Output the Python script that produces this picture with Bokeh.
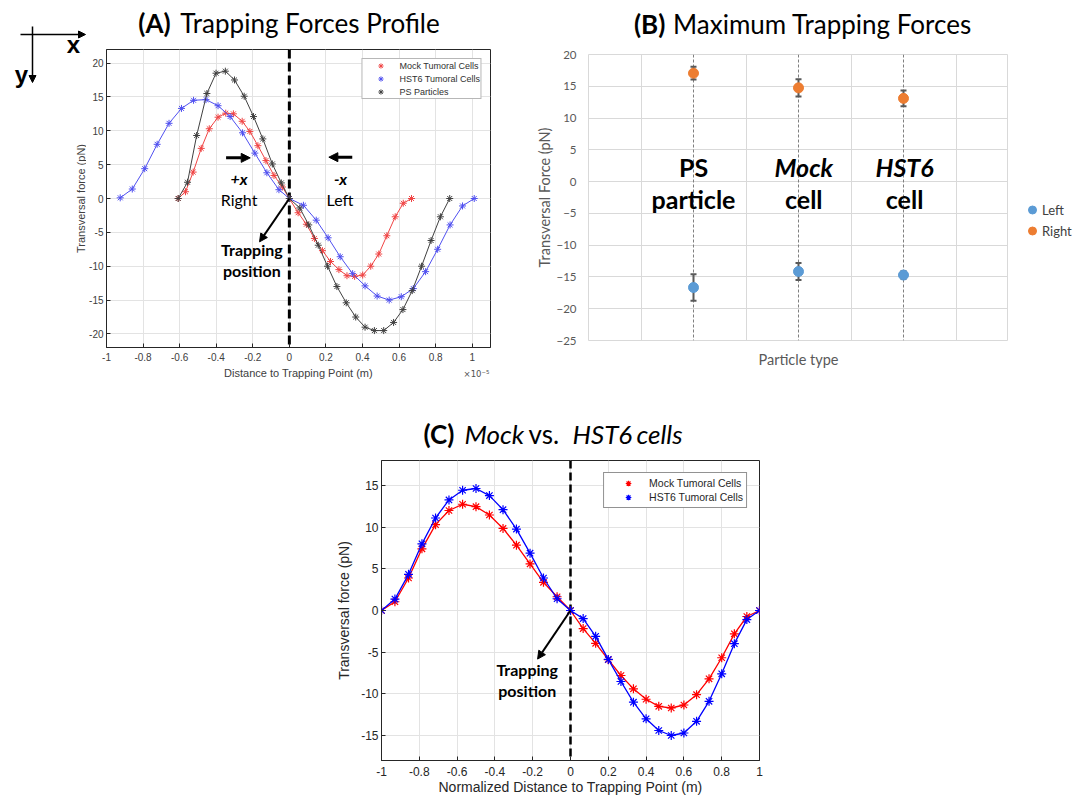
import math
from bokeh.plotting import figure
from bokeh.models import (Label, Arrow, NormalHead, Span, Legend, LegendItem, FixedTicker,
                          CustomJSTickFormatter, Whisker, TeeHead, ColumnDataSource,
                          SingleIntervalTicker, Range1d)
from bokeh.layouts import column, row, Spacer
from bokeh.embed import file_html
from bokeh.resources import INLINE

# ---------------- Panel A data (distance in units of 1e-5 m, force in pN) ----------------
mock_a_x = [-0.608, -0.568, -0.526, -0.482, -0.438, -0.390, -0.348, -0.306, -0.258, -0.216,
            -0.172, -0.128, -0.084, -0.038, 0.0, 0.048, 0.093, 0.137, 0.181, 0.225,
            0.271, 0.315, 0.357, 0.401, 0.445, 0.489, 0.533, 0.579, 0.623, 0.668]
mock_a_y = [0.0, 1.0, 3.9, 7.4, 10.3, 12.0, 12.6, 12.5, 11.4, 9.9,
            7.8, 5.6, 3.4, 1.7, 0.0, -2.1, -3.8, -5.9, -7.7, -9.3,
            -10.5, -11.4, -11.5, -11.3, -10.0, -8.2, -5.5, -2.7, -0.7, 0.0]
hst6_a_x = [-0.925, -0.859, -0.791, -0.723, -0.658, -0.590, -0.524, -0.456, -0.390, -0.324,
            -0.256, -0.189, -0.123, -0.057, 0.0, 0.077, 0.147, 0.212, 0.278, 0.346,
            0.414, 0.480, 0.546, 0.612, 0.678, 0.745, 0.811, 0.879, 0.947, 1.011]
hst6_a_y = [0.1, 1.4, 4.4, 8.0, 11.1, 13.3, 14.5, 14.6, 13.7, 12.1,
            9.7, 6.7, 3.8, 1.3, 0.0, -1.0, -3.2, -5.8, -8.6, -11.1,
            -12.9, -14.4, -15.0, -14.5, -13.3, -10.8, -7.5, -3.9, -1.1, 0.0]
ps_a_x = [-0.608, -0.557, -0.507, -0.451, -0.401, -0.350, -0.300, -0.247, -0.196, -0.145,
          -0.093, -0.044, 0.0, 0.057, 0.106, 0.158, 0.209, 0.260, 0.311, 0.363,
          0.414, 0.465, 0.516, 0.570, 0.621, 0.672, 0.723, 0.775, 0.826, 0.877]
ps_a_y = [0.0, 2.4, 9.3, 15.5, 18.5, 18.8, 17.5, 15.1, 12.1, 8.8,
          5.1, 2.3, 0.0, -1.4, -3.9, -6.9, -10.0, -13.0, -15.4, -17.5,
          -19.0, -19.5, -19.5, -18.3, -16.4, -13.6, -10.0, -6.2, -2.7, 0.0]
trap_pos = 0.0

# ---------------- Panel B data ----------------
cat_x = [1, 2, 3]
cat_line1 = ["PS", "Mock", "HST6"]
cat_line2 = ["particle", "cell", "cell"]
cat_italic = [False, True, True]
right_mean = [17.06, 14.75, 13.1]
right_err = [1.0, 1.35, 1.25]
left_mean = [-16.66, -14.14, -14.7]
left_err = [2.1, 1.35, 0.6]
series_b = ["Left", "Right"]
colors_b = ["#5B9BD5", "#ED7D31"]

# ---------------- Panel C data (normalized distance) ----------------
norm_x = [-1.0, -0.929, -0.857, -0.786, -0.714, -0.643, -0.571, -0.5, -0.429, -0.357,
          -0.286, -0.214, -0.143, -0.071, 0.0, 0.067, 0.133, 0.2, 0.267, 0.333,
          0.4, 0.467, 0.533, 0.6, 0.667, 0.733, 0.8, 0.867, 0.933, 1.0]
mock_c_y = [0.0, 1.05, 3.9, 7.4, 10.3, 12.0, 12.75, 12.46, 11.46, 9.85,
            7.84, 5.59, 3.38, 1.65, 0.0, -2.17, -3.94, -5.9, -7.8, -9.4,
            -10.65, -11.5, -11.7, -11.34, -10.1, -8.2, -5.67, -2.8, -0.72, 0.0]
hst6_c_y = [0.0, 1.37, 4.34, 8.0, 11.1, 13.27, 14.43, 14.64, 13.79, 12.1,
            9.77, 6.88, 3.9, 1.41, 0.0, -0.97, -3.1, -5.87, -8.52, -11.0,
            -13.0, -14.4, -15.0, -14.7, -13.3, -10.9, -7.6, -3.98, -1.09, 0.0]

xticks_ac = [-1, -0.8, -0.6, -0.4, -0.2, 0, 0.2, 0.4, 0.6, 0.8, 1]
yticks_a = [-20, -15, -10, -5, 0, 5, 10, 15, 20]
yticks_c = [-15, -10, -5, 0, 5, 10, 15]

TITLE_FONT = "Lato"
MAT_FONT = "Liberation Sans"
FRAME = "#262626"


def base_fig(w, h, xr, yr, bl=0, br=0, bt=0, bb=0, axes=True):
    kw = {} if axes else dict(x_axis_type=None, y_axis_type=None)
    f = figure(width=w, height=h, x_range=xr, y_range=yr, output_backend="svg",
               toolbar_location=None, min_border=0, min_border_left=bl, min_border_right=br,
               min_border_top=bt, min_border_bottom=bb, **kw)
    f.title.visible = False
    if not axes:
        f.outline_line_color = None
    return f


def matlab_axes(p, xt, yt, tick_size, xstand, ystand, tick_color, grid_color,
                xlabel=None, ylabel=None, lab_size="14px", xlstand=0, ylstand=0):
    fmt = CustomJSTickFormatter(code="return (Math.round(tick*10)/10).toString();")
    for ax, t, st, lab_, lst in ((p.xaxis[0], xt, xstand, xlabel, xlstand),
                                 (p.yaxis[0], yt, ystand, ylabel, ylstand)):
        ax.ticker = FixedTicker(ticks=t)
        ax.formatter = fmt
        ax.major_tick_in = 4
        ax.major_tick_out = 0
        ax.minor_tick_line_color = None
        ax.axis_line_color = FRAME
        ax.major_tick_line_color = FRAME
        ax.major_label_standoff = st
        ax.major_label_text_font = MAT_FONT
        ax.major_label_text_font_size = tick_size
        ax.major_label_text_color = tick_color
        if lab_:
            ax.axis_label = lab_
            ax.axis_label_standoff = lst
            ax.axis_label_text_font = MAT_FONT
            ax.axis_label_text_font_style = "normal"
            ax.axis_label_text_font_size = lab_size
            ax.axis_label_text_color = tick_color
    p.xgrid.ticker = FixedTicker(ticks=xt)
    p.ygrid.ticker = FixedTicker(ticks=yt)
    p.grid.grid_line_color = grid_color
    p.outline_line_color = FRAME


def lab(p, x, y, text, size, style="normal", align="center", baseline="middle",
        font=TITLE_FONT, color="black", angle=0.0):
    p.add_layout(Label(x=x, y=y, text=text, text_font=font, text_font_size=size,
                       text_font_style=style, text_align=align, text_baseline=baseline,
                       text_color=color, angle=angle))


def head(size):
    return NormalHead(size=size, fill_color="black", line_color="black")


# ======================= Panel A =======================
xrA = Range1d(-1, 1.1)
yrA = Range1d(-22, 22)

gA = base_fig(86, 90, Range1d(0, 86), Range1d(90, 0), axes=False)
gA.add_layout(Arrow(x_start=20, y_start=34, x_end=85, y_end=34, line_width=1.5, end=head(7)))
gA.add_layout(Arrow(x_start=32, y_start=26, x_end=32, y_end=82, line_width=1.5, end=head(7)))
lab(gA, 73, 44, "x", "24px", "bold", font=MAT_FONT)
lab(gA, 21, 74, "y", "24px", "bold", font=MAT_FONT)

ylA = base_fig(86, 298, Range1d(0, 86), Range1d(388, 90), axes=False)
lab(ylA, 80, 198, "Transversal force (pN)", "11px", font=MAT_FONT, color="#404040",
    angle=math.pi / 2)

tA = base_fig(424, 49, xrA, Range1d(49, 0), bl=20, br=20, axes=False)
lab(tA, -0.826, 22, "(A)", "26px", "bold", "left")
lab(tA, -0.596, 22, "Trapping Forces Profile", "26px", "normal", "left")

pA = base_fig(424, 315, xrA, yrA, bl=20, br=20, bt=0, bb=17)
matlab_axes(pA, xticks_ac, yticks_a, "10px", 5, 3, "#404040", "#e3e3e3")
pA.add_layout(Span(location=trap_pos, dimension="height", line_color="black", line_width=3,
                   line_dash="9 4", level="underlay"))
series_a = [("Mock Tumoral Cells", mock_a_x, mock_a_y, "#f04444"),
            ("HST6 Tumoral Cells", hst6_a_x, hst6_a_y, "#5050f0"),
            ("PS Particles", ps_a_x, ps_a_y, "#404040")]
items_a = []
for name, xs, ys, col in series_a:
    pA.line(xs, ys, line_color=col, line_width=1)
    r = pA.scatter(xs, ys, marker="asterisk", size=7, line_color=col, line_width=1)
    items_a.append(LegendItem(label=name, renderers=[r]))
legA = Legend(items=items_a, location="top_right", margin=9, padding=0, spacing=0,
              glyph_width=36, glyph_height=13, label_height=13, label_standoff=1,
              label_text_font=MAT_FONT, label_text_font_size="9px", label_text_color="#303030",
              border_line_color="#707070", background_fill_color="white", background_fill_alpha=1)
pA.add_layout(legA)
pA.add_layout(Arrow(x_start=-0.346, y_start=6.0, x_end=-0.214, y_end=6.0, line_width=3, end=head(9)))
pA.add_layout(Arrow(x_start=0.344, y_start=6.1, x_end=0.216, y_end=6.1, line_width=3, end=head(9)))
lab(pA, -0.275, 3.0, "+x", "16px", "bold italic")
lab(pA, -0.275, -0.15, "Right", "16px")
lab(pA, 0.28, 3.0, "-x", "16px", "bold italic")
lab(pA, 0.277, -0.1, "Left", "16px")
pA.add_layout(Arrow(x_start=trap_pos, y_start=0.0, x_end=-0.163, y_end=-6.4, line_width=2, end=head(8)))
lab(pA, -0.205, -7.5, "Trapping", "16px", "bold")
lab(pA, -0.205, -10.7, "position", "16px", "bold")

xA = base_fig(424, 24, xrA, Range1d(388, 364), bl=20, br=20, axes=False)
lab(xA, 0.05, 372, "Distance to Trapping Point (m)", "11px", font=MAT_FONT, color="#404040")
lab(xA, 1.094, 373, "×10⁻⁵", "8.5px", align="right", font="DejaVu Sans", color="#505050")

# ======================= Panel B =======================
xrB = Range1d(0, 4)
tB = base_fig(498, 46, xrB, Range1d(46, 0), bl=78, br=0, axes=False)
lab(tB, 0.433, 23.5, "(B)", "26px", "bold", "left")
lab(tB, 0.805, 23.5, "Maximum Trapping Forces", "26px", "normal", "left")

pB = base_fig(498, 342, xrB, Range1d(-25, 20), bl=78, br=0, bt=8, bb=48)
xb = pB.xaxis[0]
xb.ticker = FixedTicker(ticks=[])
xb.axis_line_color = None
xb.major_tick_line_color = None
xb.minor_tick_line_color = None
xb.major_label_standoff = 0
xb.axis_label = "Particle type"
xb.axis_label_standoff = 10
xb.axis_label_text_font = TITLE_FONT
xb.axis_label_text_font_style = "normal"
xb.axis_label_text_font_size = "14.5px"
xb.axis_label_text_color = "#595959"
yb = pB.yaxis[0]
yb.ticker = SingleIntervalTicker(interval=5)
yb.major_tick_line_color = None
yb.minor_tick_line_color = None
yb.axis_line_color = None
yb.major_label_standoff = 6
yb.major_label_text_font = TITLE_FONT
yb.major_label_text_font_size = "11.5px"
yb.major_label_text_color = "#595959"
yb.axis_label = "Transversal Force (pN)"
yb.axis_label_standoff = 0
yb.axis_label_text_font = TITLE_FONT
yb.axis_label_text_font_style = "normal"
yb.axis_label_text_font_size = "14.5px"
yb.axis_label_text_color = "#595959"
pB.ygrid.ticker = SingleIntervalTicker(interval=5)
pB.xgrid.ticker = FixedTicker(ticks=[0.5, 1.5, 2.5, 3.5])
pB.grid.grid_line_color = "#d9d9d9"
pB.outline_line_color = "#d9d9d9"

for cx in cat_x:
    pB.add_layout(Span(location=cx, dimension="height", line_color="#7f7f7f", line_width=1,
                       line_dash="3 2", level="underlay"))

srcL = ColumnDataSource(dict(x=cat_x, y=left_mean,
                             upper=[m + e for m, e in zip(left_mean, left_err)],
                             lower=[m - e for m, e in zip(left_mean, left_err)]))
srcR = ColumnDataSource(dict(x=cat_x, y=right_mean,
                             upper=[m + e for m, e in zip(right_mean, right_err)],
                             lower=[m - e for m, e in zip(right_mean, right_err)]))
for src in (srcL, srcR):
    pB.add_layout(Whisker(source=src, base="x", upper="upper", lower="lower",
                          line_color="#595959", line_width=2,
                          upper_head=TeeHead(size=6, line_color="#595959", line_width=2),
                          lower_head=TeeHead(size=6, line_color="#595959", line_width=2)))
for src, col in zip((srcL, srcR), colors_b):
    pB.scatter("x", "y", source=src, size=10, fill_color=col, line_color=col)

label_dx = [0.0, 0.05, 0.01]
for cx, dx, t1, t2, it in zip(cat_x, label_dx, cat_line1, cat_line2, cat_italic):
    lab(pB, cx + dx, 2.27, t1, "25px", "bold italic" if it else "bold")
    lab(pB, cx + dx, -2.77, t2, "25px", "bold")

# legend strip to the right of panel B; its key renderers reuse the B data, which lies
# outside this strip's ranges, so only the legend swatches are visible
lB = base_fig(69, 388, Range1d(100, 101), Range1d(100, 101), axes=False)
key_items = []
for name, src, col in zip(series_b, (srcL, srcR), colors_b):
    kr = lB.scatter("x", "y", source=src, size=10, fill_color=col, line_color=col)
    key_items.append(LegendItem(label=name, renderers=[kr]))
legB = Legend(items=key_items, location=(14, 147), padding=0, spacing=0, margin=0,
              glyph_width=20, glyph_height=21, label_height=21, label_standoff=0,
              border_line_color=None, background_fill_alpha=0,
              label_text_font=TITLE_FONT, label_text_font_size="13px", label_text_color="#404040")
lB.add_layout(legB)

# ======================= Panel C =======================
xrC = Range1d(-1, 1)
tC = base_fig(480, 72, xrC, Range1d(460, 388), bl=81, br=21, axes=False)
lab(tC, -0.778, 433.5, "(C)", "26px", "bold", "left")
lab(tC, -0.561, 433.5, "Mock", "26px", "italic", "left")
lab(tC, -0.222, 433.5, "vs.", "26px", "normal", "left")
lab(tC, 0.0106, 433.5, "HST6", "26px", "italic", "left")
lab(tC, 0.349, 433.5, "cells", "26px", "italic", "left")

pC = base_fig(480, 338, xrC, Range1d(-18, 18), bl=81, br=21, bt=0, bb=38)
matlab_axes(pC, xticks_ac, yticks_c, "12px", 6, 3, "#262626", "#e3e3e3",
            xlabel="Normalized Distance to Trapping Point (m)", ylabel="Transversal force (pN)",
            lab_size="14px", xlstand=0, ylstand=6)
pC.add_layout(Span(location=trap_pos, dimension="height", line_color="black", line_width=2.5,
                   line_dash="8 4", level="underlay"))
items_c = []
for name, ys, col in (("Mock Tumoral Cells", mock_c_y, "#ff0000"),
                      ("HST6 Tumoral Cells", hst6_c_y, "#0000ff")):
    pC.line(norm_x, ys, line_color=col, line_width=1.3)
    r = pC.scatter(norm_x, ys, marker="asterisk", size=9, line_color=col, line_width=1.2)
    items_c.append(LegendItem(label=name, renderers=[r]))
legC = Legend(items=items_c, location="top_right", margin=12, padding=3, spacing=0,
              glyph_width=42, glyph_height=14, label_height=14, label_standoff=0,
              label_text_font=MAT_FONT, label_text_font_size="10.5px", label_text_color="#262626",
              border_line_color=FRAME, background_fill_color="white", background_fill_alpha=1)
pC.add_layout(legC)
pC.add_layout(Arrow(x_start=trap_pos, y_start=0.0, x_end=-0.174, y_end=-5.83, line_width=2, end=head(8)))
lab(pC, -0.229, -7.12, "Trapping", "16px", "bold")
lab(pC, -0.229, -9.61, "position", "16px", "bold")

top = row(column(gA, ylA), column(tA, pA, xA), column(tB, pB), lB)
bottom = row(Spacer(width=300, height=410), column(tC, pC))
layout = column(top, bottom)
open("out.html", "w").write(file_html(layout, INLINE))
